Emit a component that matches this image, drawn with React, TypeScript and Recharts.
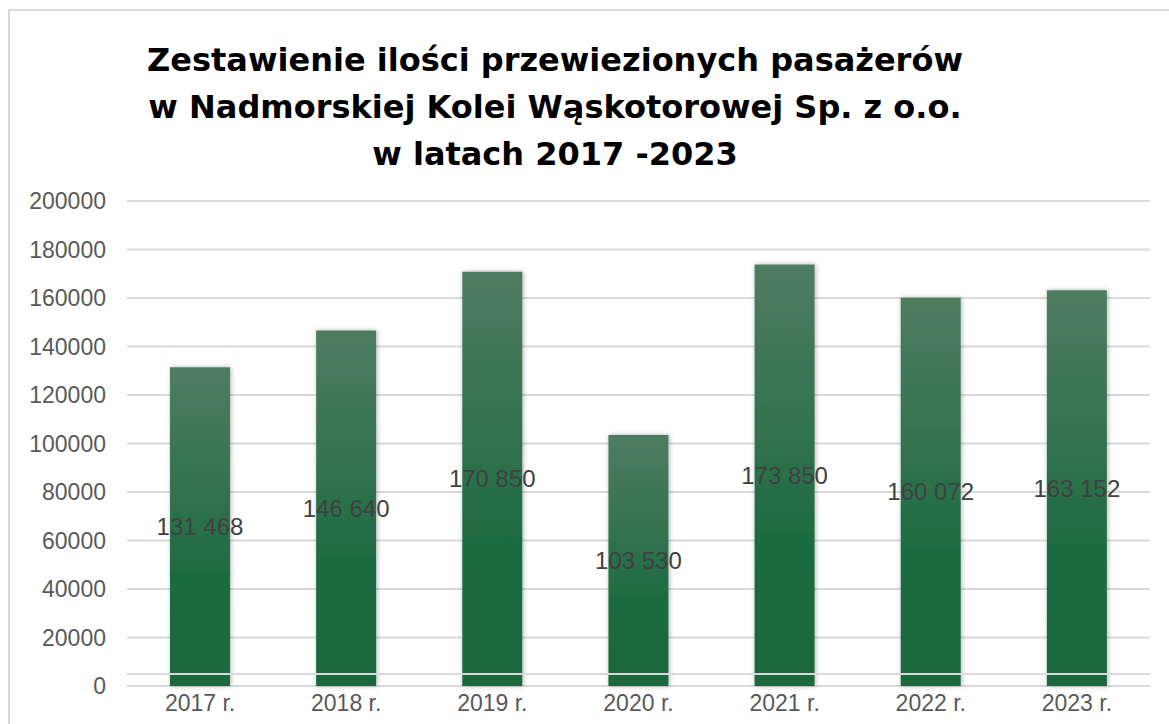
import { BarChart, Bar, XAxis, YAxis, CartesianGrid, LabelList, ReferenceLine } from "recharts";

const years = ["2017 r.", "2018 r.", "2019 r.", "2020 r.", "2021 r.", "2022 r.", "2023 r."];
const passengers = [131468, 146640, 170850, 103530, 173850, 160072, 163152];
const yTicks = [0, 20000, 40000, 60000, 80000, 100000, 120000, 140000, 160000, 180000, 200000];
const titleLines = [
  "Zestawienie ilości przewiezionych pasażerów",
  "w Nadmorskiej Kolei Wąskotorowej Sp. z o.o.",
  "w latach 2017 -2023",
];

const data = years.map((year, i) => ({ year, value: passengers[i] }));

const fmt = (v: number) => v.toString().replace(/\B(?=(\d{3})+(?!\d))/g, " ");

export default function App() {
  return (
    <div
      style={{
        position: "fixed",
        left: 0,
        top: 0,
        width: 1169,
        height: 724,
        overflow: "hidden",
        background: "#fff",
        fontFamily: "'Liberation Sans', Arial, sans-serif",
      }}
    >
      <div
        style={{
          position: "absolute",
          left: 8,
          top: 9,
          width: 1300,
          height: 900,
          border: "2px solid #d9d9d9",
        }}
      />
      <div
        style={{
          position: "absolute",
          left: 0,
          top: 37,
          width: 1110,
          textAlign: "center",
          fontFamily: "'DejaVu Sans', sans-serif",
          fontWeight: 700,
          fontSize: 32,
          lineHeight: "47px",
          color: "#000",
        }}
      >
        {titleLines.map((t) => (
          <div key={t}>{t}</div>
        ))}
      </div>
      <div style={{ position: "absolute", left: 0, top: 0 }}>
        <BarChart
          width={1169}
          height={724}
          data={data}
          margin={{ top: 201, right: 19, bottom: 4, left: 0 }}
        >
          <defs>
            <linearGradient id="barGrad" x1="0" y1="0" x2="0" y2="1">
              <stop offset="0%" stopColor="#4f7c61" />
              <stop offset="70%" stopColor="#1b6a3f" />
              <stop offset="100%" stopColor="#1a673d" />
            </linearGradient>
            <filter id="shadow" x="-20%" y="-5%" width="140%" height="110%">
              <feDropShadow dx="1" dy="0" stdDeviation="2.5" floodColor="#000" floodOpacity="0.3" />
            </filter>
          </defs>
          <CartesianGrid vertical={false} stroke="#d9d9d9" strokeWidth={2} />
          <XAxis
            dataKey="year"
            axisLine={false}
            tickLine={false}
            height={34}
            tickMargin={3}
            tick={{ fill: "#595959", fontSize: 23 }}
          />
          <YAxis
            domain={[0, 200000]}
            ticks={yTicks}
            interval={0}
            width={127}
            axisLine={false}
            tickLine={false}
            tickMargin={15}
            tick={{ fill: "#595959", fontSize: 23 }}
          />
          <Bar
            dataKey="value"
            fill="url(#barGrad)"
            barSize={60}
            filter="url(#shadow)"
            isAnimationActive={false}
          >
            <LabelList
              dataKey="value"
              position="center"
              formatter={(v: number) => fmt(v)}
              style={{ fill: "#404040", fontSize: 24 }}
            />
          </Bar>
          <ReferenceLine y={5000} stroke="#d9d9d9" strokeWidth={2} />
        </BarChart>
      </div>
    </div>
  );
}
